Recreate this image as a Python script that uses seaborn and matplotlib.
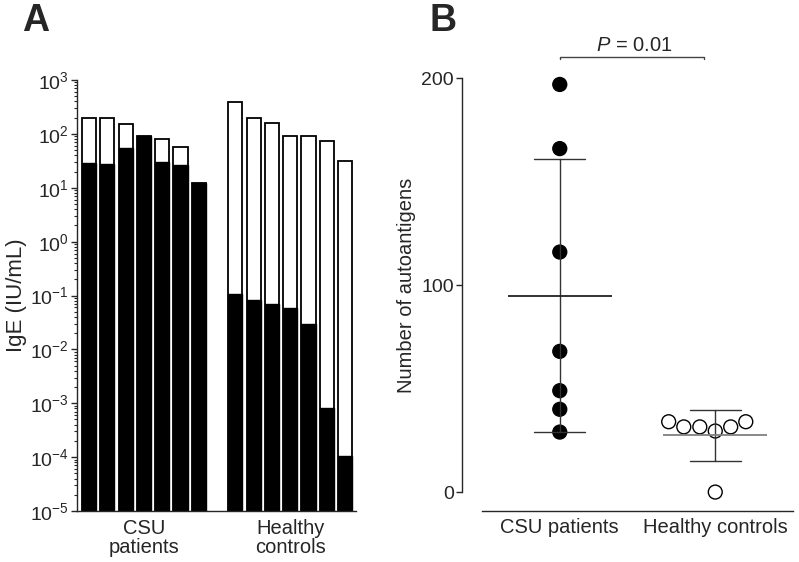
import numpy as np
import pandas as pd
import matplotlib
matplotlib.use("Agg")
import matplotlib.pyplot as plt
import seaborn as sns

# Panel A: total IgE and autoantigen-specific IgE per subject (IU/mL)
csu_total = [195, 195, 153, 92, 79, 57, 12.4]
csu_specific = [29, 28, 54, 92, 30, 27, 12.4]
hc_total = [383, 200, 160, 92, 92, 73, 31.5]
hc_specific = [0.105, 0.081, 0.069, 0.059, 0.030, 0.00082, 0.000105]

# Panel B: number of autoantigens per subject
csu_counts = [197, 166, 116, 68, 49, 40, 29]
hc_counts = [34, 31.5, 31.5, 29.5, 31.5, 34, 0]
groups = ["CSU patients", "Healthy controls"]

sns.set_style("ticks")
plt.rcParams["font.family"] = ["Liberation Sans", "DejaVu Sans"]
plt.rcParams["mathtext.fontset"] = "custom"
plt.rcParams["mathtext.rm"] = "Liberation Sans"
plt.rcParams["mathtext.it"] = "Liberation Sans:italic"
plt.rcParams["mathtext.bf"] = "Liberation Sans:bold"
plt.rcParams["font.size"] = 14.5

fig = plt.figure(figsize=(7.99, 5.62), dpi=100)

# ---- A ----
axA = fig.add_axes([0.0964, 0.0907, 0.3492, 0.7669])
pos = list(range(7)) + list(range(8, 15))
dfA = pd.DataFrame({
    "pos": pos,
    "total": csu_total + hc_total,
    "specific": csu_specific + hc_specific,
})
sns.barplot(data=dfA, x="pos", y="total", native_scale=True, width=0.77,
            color="white", edgecolor="black", linewidth=1.3, errorbar=None,
            saturation=1, ax=axA)
sns.barplot(data=dfA, x="pos", y="specific", native_scale=True, width=0.77,
            color="black", edgecolor="black", linewidth=1.0, errorbar=None,
            saturation=1, ax=axA)
axA.set_yscale("log")
axA.set_ylim(1e-5, 1e3)
axA.set_xlim(-0.66, 14.6)
axA.set_yticks([10.0 ** k for k in range(-5, 4)])
axA.yaxis.set_minor_locator(matplotlib.ticker.LogLocator(base=10, subs=np.arange(2, 10), numticks=20))
axA.yaxis.set_minor_formatter(matplotlib.ticker.NullFormatter())
axA.set_xticks([3, 11])
axA.set_xticklabels(["CSU\npatients", "Healthy\ncontrols"], linespacing=0.95)
axA.tick_params(axis="x", length=0, pad=6)
axA.tick_params(axis="y", which="major", length=4, width=1, pad=2, labelsize=14)
axA.tick_params(axis="y", which="minor", length=2, width=0.8)
axA.set_xlabel("")
axA.set_ylabel("IgE (IU/mL)", fontsize=16)
axA.yaxis.set_label_coords(-0.179, 0.5)
sns.despine(ax=axA)
for s in axA.spines.values():
    s.set_linewidth(1)

# ---- B ----
axB = fig.add_axes([0.6033, 0.0913, 0.3892, 0.8247])
dfB = pd.DataFrame({
    "group": [groups[0]] * len(csu_counts) + [groups[1]] * len(hc_counts),
    "count": csu_counts + hc_counts,
})
sns.swarmplot(data=dfB, x="group", y="count", hue="group", order=groups,
              palette={groups[0]: "black", groups[1]: "white"},
              edgecolor="black", linewidth=1, size=10, legend=False,
              ax=axB, zorder=2)
sns.pointplot(data=dfB, x="group", y="count", order=groups, errorbar="sd",
              capsize=0.33, linestyle="none", marker="", color="#333333",
              err_kws={"linewidth": 1}, ax=axB, zorder=3)
sns.pointplot(data=dfB, x="group", y="count", order=groups, hue="group",
              palette={groups[0]: "#222222", groups[1]: "#808080"},
              errorbar=None, linestyle="none", marker="_", markersize=75,
              markeredgewidth=1.3, legend=False, ax=axB, zorder=3)
axB.set_ylim(-9, 215)
axB.set_xlim(-0.5, 1.5)
axB.set_yticks([0, 100, 200])
axB.tick_params(axis="x", length=0, pad=5)
axB.tick_params(axis="y", length=4, width=1, pad=2, labelsize=14)
axB.set_xlabel("")
axB.set_ylabel("Number of autoantigens")
axB.yaxis.set_label_coords(-0.212, 0.487)
sns.despine(ax=axB)
axB.spines["left"].set_position(("outward", 14.4))
axB.spines["left"].set_bounds(0, 200)
for s in axB.spines.values():
    s.set_linewidth(1)

# significance bracket
axB.plot([0, 0, 0.93, 0.93], [209.2, 210.4, 210.4, 209.2], color="#444444",
         lw=1, clip_on=False)
axB.text(0.476, 213.2, r"$\mathit{P}$ = 0.01", ha="center", va="baseline",
         fontsize=14.5)

fig.text(22 / 799, 1 - 31 / 562, "A", fontsize=27, fontweight="bold", va="baseline")
fig.text(430 / 799, 1 - 31 / 562, "B", fontsize=27, fontweight="bold", va="baseline")

fig.savefig("out.png", dpi=100)
